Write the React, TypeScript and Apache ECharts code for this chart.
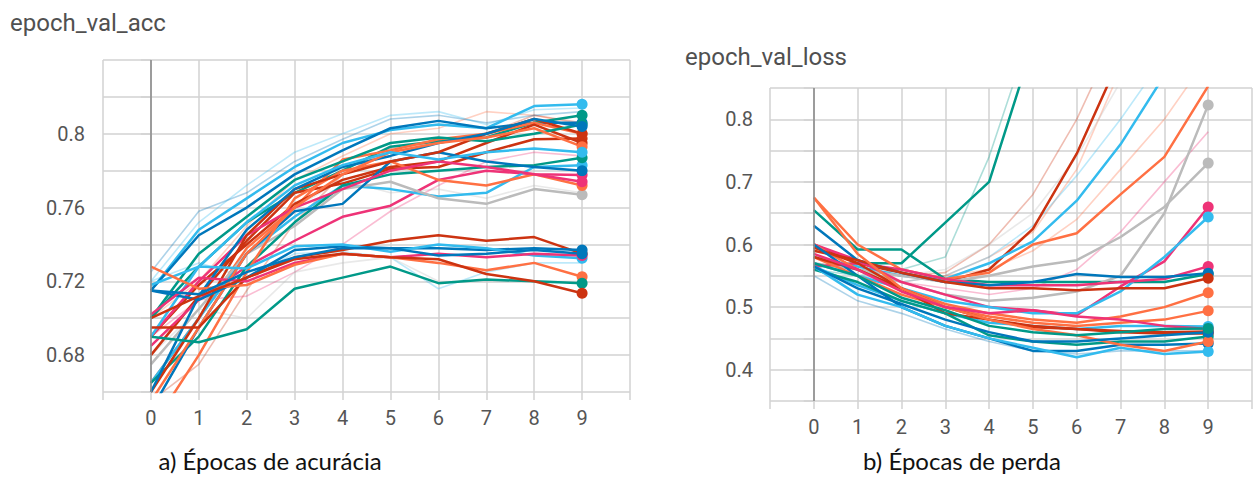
import React, { useEffect, useRef } from "react";
import * as echarts from "echarts";

// Epoch index shared by both panels
const EPOCHS = [0, 1, 2, 3, 4, 5, 6, 7, 8, 9];
const X_TICK_LABELS = ["0", "1", "2", "3", "4", "5", "6", "7", "8", "9"];

// TensorBoard run palette
const ORANGE = "#ff7043";
const BLUE = "#0077bb";
const RED = "#cc3311";
const CYAN = "#33bbee";
const PINK = "#ee3377";
const TEAL = "#009988";
const GRAY = "#bbbbbb";

// ---- epoch_val_acc ----
const ACC_TICK_LABELS = ["0.68", "0.72", "0.76", "0.8"];

// smoothed runs: [colour, values per epoch]
const accRuns: [string, number[]][] = [
  [CYAN, [0.715, 0.748, 0.765, 0.782, 0.795, 0.802, 0.805, 0.803, 0.815, 0.816]],
  [BLUE, [0.715, 0.745, 0.76, 0.778, 0.791, 0.803, 0.807, 0.803, 0.806, 0.806]],
  [TEAL, [0.7, 0.728, 0.752, 0.768, 0.78, 0.793, 0.796, 0.798, 0.806, 0.81]],
  [RED, [0.68, 0.712, 0.742, 0.768, 0.773, 0.781, 0.782, 0.79, 0.797, 0.7975]],
  [ORANGE, [0.665, 0.7, 0.738, 0.76, 0.786, 0.791, 0.797, 0.8, 0.806, 0.8]],
  [RED, [0.69, 0.718, 0.74, 0.762, 0.775, 0.782, 0.785, 0.795, 0.805, 0.795]],
  [PINK, [0.685, 0.71, 0.728, 0.742, 0.755, 0.761, 0.775, 0.78, 0.778, 0.7777]],
  [CYAN, [0.665, 0.7, 0.735, 0.755, 0.772, 0.77, 0.766, 0.768, 0.782, 0.783]],
  [GRAY, [0.675, 0.705, 0.735, 0.75, 0.77, 0.774, 0.765, 0.762, 0.77, 0.767]],
  [TEAL, [0.665, 0.69, 0.728, 0.752, 0.772, 0.778, 0.78, 0.782, 0.783, 0.787]],
  [BLUE, [0.65, 0.695, 0.735, 0.758, 0.762, 0.785, 0.79, 0.785, 0.782, 0.78]],
  [ORANGE, [0.64, 0.68, 0.725, 0.765, 0.78, 0.785, 0.775, 0.772, 0.778, 0.772]],
  [PINK, [0.69, 0.72, 0.745, 0.76, 0.77, 0.78, 0.785, 0.782, 0.778, 0.774]],
  [RED, [0.66, 0.7, 0.745, 0.77, 0.778, 0.785, 0.79, 0.8, 0.808, 0.8]],
  [TEAL, [0.7, 0.735, 0.755, 0.775, 0.785, 0.795, 0.798, 0.796, 0.8, 0.805]],
  [BLUE, [0.66, 0.712, 0.748, 0.77, 0.782, 0.788, 0.795, 0.8, 0.808, 0.804]],
  [ORANGE, [0.655, 0.695, 0.735, 0.76, 0.778, 0.79, 0.795, 0.798, 0.803, 0.793]],
  [CYAN, [0.69, 0.728, 0.752, 0.772, 0.783, 0.79, 0.786, 0.79, 0.792, 0.79]],
  [RED, [0.695, 0.695, 0.722, 0.733, 0.737, 0.742, 0.745, 0.742, 0.744, 0.735]],
  [BLUE, [0.715, 0.71, 0.722, 0.737, 0.739, 0.738, 0.738, 0.737, 0.738, 0.737]],
  [CYAN, [0.718, 0.728, 0.727, 0.739, 0.74, 0.736, 0.74, 0.738, 0.734, 0.7325]],
  [PINK, [0.702, 0.722, 0.72, 0.73, 0.735, 0.733, 0.735, 0.733, 0.735, 0.734]],
  [ORANGE, [0.728, 0.716, 0.718, 0.729, 0.735, 0.733, 0.73, 0.726, 0.73, 0.7225]],
  [TEAL, [0.69, 0.687, 0.694, 0.716, 0.722, 0.728, 0.719, 0.721, 0.72, 0.719]],
  [RED, [0.7, 0.712, 0.722, 0.732, 0.735, 0.733, 0.732, 0.724, 0.72, 0.7135]],
  [BLUE, [0.715, 0.713, 0.725, 0.733, 0.738, 0.738, 0.734, 0.735, 0.737, 0.735]],
];

// raw (unsmoothed) runs, drawn faint
const accRawRuns: [string, number[]][] = [
  [CYAN, [0.72, 0.752, 0.772, 0.79, 0.8, 0.81, 0.812, 0.805, 0.813, 0.814]],
  [ORANGE, [0.7, 0.72, 0.75, 0.775, 0.788, 0.8, 0.803, 0.812, 0.81, 0.805]],
  [GRAY, [0.7, 0.7, 0.735, 0.76, 0.775, 0.768, 0.77, 0.765, 0.772, 0.768]],
  [RED, [0.655, 0.675, 0.715, 0.752, 0.778, 0.792, 0.795, 0.8, 0.81, 0.806]],
  [CYAN, [0.72, 0.73, 0.722, 0.735, 0.736, 0.733, 0.716, 0.725, 0.73, 0.73]],
  [PINK, [0.69, 0.71, 0.712, 0.725, 0.74, 0.758, 0.772, 0.785, 0.79, 0.788]],
  [GRAY, [0.68, 0.705, 0.7, 0.725, 0.73, 0.733, 0.72, 0.72, 0.72, 0.72]],
  [BLUE, [0.725, 0.758, 0.768, 0.785, 0.797, 0.808, 0.81, 0.806, 0.81, 0.812]],
];

// ---- epoch_val_loss ----
const LOSS_TICK_LABELS = ["0.4", "0.5", "0.6", "0.7", "0.8"];

const lossRuns: [string, number[]][] = [
  [TEAL, [0.565, 0.57, 0.57, 0.635, 0.7, 0.92, 1.1, 1.3, 1.5, 1.7]],
  [TEAL, [0.655, 0.592, 0.592, 0.545, 0.54, 0.54, 0.54, 0.54, 0.54, 0.553]],
  [RED, [0.6, 0.57, 0.555, 0.54, 0.56, 0.625, 0.745, 0.9, 1.05, 1.2]],
  [CYAN, [0.58, 0.565, 0.55, 0.545, 0.57, 0.605, 0.67, 0.76, 0.87, 1.0]],
  [ORANGE, [0.675, 0.6, 0.56, 0.545, 0.555, 0.6, 0.618, 0.68, 0.74, 0.853]],
  [GRAY, [0.58, 0.56, 0.54, 0.52, 0.51, 0.515, 0.525, 0.55, 0.65, 0.823]],
  [GRAY, [0.57, 0.56, 0.55, 0.54, 0.55, 0.565, 0.575, 0.612, 0.66, 0.73]],
  [PINK, [0.6, 0.575, 0.54, 0.52, 0.5, 0.495, 0.487, 0.533, 0.573, 0.66]],
  [CYAN, [0.57, 0.55, 0.53, 0.51, 0.5, 0.49, 0.49, 0.525, 0.58, 0.644]],
  [PINK, [0.565, 0.57, 0.56, 0.545, 0.535, 0.535, 0.535, 0.54, 0.545, 0.565]],
  [BLUE, [0.63, 0.575, 0.555, 0.54, 0.535, 0.54, 0.553, 0.548, 0.548, 0.554]],
  [RED, [0.59, 0.575, 0.555, 0.54, 0.53, 0.53, 0.527, 0.53, 0.53, 0.546]],
  [ORANGE, [0.6, 0.56, 0.53, 0.505, 0.49, 0.48, 0.475, 0.485, 0.5, 0.523]],
  [ORANGE, [0.58, 0.55, 0.52, 0.5, 0.485, 0.475, 0.47, 0.475, 0.48, 0.494]],
  [CYAN, [0.565, 0.535, 0.51, 0.49, 0.475, 0.47, 0.465, 0.47, 0.47, 0.469]],
  [RED, [0.595, 0.57, 0.53, 0.49, 0.48, 0.47, 0.465, 0.462, 0.46, 0.461]],
  [RED, [0.58, 0.56, 0.53, 0.5, 0.48, 0.468, 0.465, 0.46, 0.458, 0.458]],
  [TEAL, [0.56, 0.54, 0.51, 0.49, 0.455, 0.445, 0.44, 0.445, 0.445, 0.453]],
  [BLUE, [0.6, 0.55, 0.5, 0.47, 0.45, 0.43, 0.43, 0.44, 0.44, 0.442]],
  [CYAN, [0.565, 0.52, 0.5, 0.47, 0.45, 0.435, 0.42, 0.435, 0.425, 0.429]],
  [ORANGE, [0.675, 0.585, 0.53, 0.5, 0.48, 0.465, 0.455, 0.44, 0.43, 0.445]],
  [PINK, [0.585, 0.56, 0.525, 0.5, 0.49, 0.495, 0.485, 0.48, 0.47, 0.465]],
  [BLUE, [0.565, 0.53, 0.505, 0.48, 0.46, 0.445, 0.445, 0.45, 0.455, 0.46]],
  [TEAL, [0.57, 0.55, 0.515, 0.495, 0.47, 0.46, 0.455, 0.46, 0.465, 0.466]],
];

const lossRawRuns: [string, number[]][] = [
  [TEAL, [0.56, 0.55, 0.56, 0.58, 0.74, 0.95, 1.1, 1.2, 1.3, 1.4]],
  [ORANGE, [0.58, 0.56, 0.54, 0.55, 0.58, 0.62, 0.72, 0.88, 1.0, 1.1]],
  [RED, [0.58, 0.56, 0.55, 0.555, 0.6, 0.68, 0.8, 0.95, 1.1, 1.2]],
  [GRAY, [0.57, 0.56, 0.55, 0.56, 0.6, 0.65, 0.74, 0.86, 1.0, 1.1]],
  [CYAN, [0.57, 0.55, 0.54, 0.55, 0.58, 0.63, 0.71, 0.8, 0.9, 1.0]],
  [ORANGE, [0.6, 0.56, 0.55, 0.55, 0.56, 0.59, 0.64, 0.72, 0.8, 0.9]],
  [PINK, [0.58, 0.56, 0.54, 0.53, 0.52, 0.53, 0.56, 0.62, 0.7, 0.78]],
  [BLUE, [0.55, 0.51, 0.49, 0.465, 0.445, 0.43, 0.425, 0.43, 0.43, 0.43]],
];

const GRID_COLOR = "#d2d2d2";
const ZERO_COLOR = "#8c8c8c";
const TICK_FONT = { fontFamily: "Roboto", fontSize: 20, color: "#555555" };
const TITLE_FONT = { fontFamily: "Roboto", fontSize: 24, fontWeight: "normal", color: "#505050" };
const CAPTION_FONT = { fontFamily: "Lato", fontSize: 24, fill: "#111111" };

function runSeries(
  runs: [string, number[]][],
  axisIndex: number,
  faded: boolean
) {
  return runs.map(([color, values]) => ({
    type: "line",
    xAxisIndex: axisIndex,
    yAxisIndex: axisIndex,
    silent: true,
    symbol: "none",
    z: faded ? 2 : 3,
    lineStyle: { color, width: faded ? 1.6 : 2.5, opacity: faded ? 0.32 : 1 },
    itemStyle: { color },
    data: values.map((v, i) =>
      !faded && i === values.length - 1
        ? { value: [EPOCHS[i], v], symbol: "circle", symbolSize: 11 }
        : [EPOCHS[i], v]
    ),
  }));
}

function zeroLine(axisIndex: number) {
  return {
    type: "line",
    xAxisIndex: axisIndex,
    yAxisIndex: axisIndex,
    data: [],
    z: 1,
    markLine: {
      silent: true,
      symbol: "none",
      animation: false,
      label: { show: false },
      lineStyle: { color: ZERO_COLOR, width: 1.6, type: "solid" },
      data: [{ xAxis: 0 }],
    },
  };
}

function xAxisFor(gridIndex: number) {
  return {
    type: "value",
    gridIndex,
    min: -1,
    max: 10,
    interval: 1,
    axisLine: { show: false },
    axisTick: { show: true, length: 8, lineStyle: { color: GRID_COLOR, width: 1.5 } },
    splitLine: { show: true, lineStyle: { color: GRID_COLOR, width: 1.5 } },
    axisLabel: {
      ...TICK_FONT,
      margin: 16,
      showMinLabel: true,
      showMaxLabel: true,
      formatter: (v: number) => {
        const s = String(Math.round(v));
        return X_TICK_LABELS.includes(s) ? s : "";
      },
    },
  };
}

function yAxisFor(
  gridIndex: number,
  min: number,
  max: number,
  interval: number,
  labels: string[],
  margin: number
) {
  return {
    type: "value",
    gridIndex,
    min,
    max,
    interval,
    axisLine: { show: false },
    axisTick: { show: true, length: 10, lineStyle: { color: GRID_COLOR, width: 1.5 } },
    splitLine: { show: true, lineStyle: { color: GRID_COLOR, width: 1.5 } },
    axisLabel: {
      ...TICK_FONT,
      margin,
      showMinLabel: true,
      showMaxLabel: true,
      formatter: (v: number) => {
        const s = String(+v.toFixed(2));
        return labels.includes(s) ? s : "";
      },
    },
  };
}

export default function App() {
  const ref = useRef<HTMLDivElement>(null);

  useEffect(() => {
    if (!ref.current) return;
    const chart = echarts.init(ref.current, undefined, { renderer: "svg" });
    chart.setOption({
      animation: false,
      backgroundColor: "#ffffff",
      title: [
        { text: "epoch_val_acc", left: 10, top: 11, padding: 0, textStyle: TITLE_FONT },
        { text: "epoch_val_loss", left: 685, top: 45, padding: 0, textStyle: TITLE_FONT },
      ],
      grid: [
        { left: 103, top: 60, width: 527, height: 332 },
        { left: 770, top: 88, width: 490, height: 313 },
      ],
      xAxis: [xAxisFor(0), xAxisFor(1)],
      yAxis: [
        yAxisFor(0, 0.66, 0.84, 0.02, ACC_TICK_LABELS, 18),
        yAxisFor(1, 0.35, 0.85, 0.05, LOSS_TICK_LABELS, 17),
      ],
      graphic: [
        {
          type: "text",
          x: 270,
          y: 460,
          style: {
            text: "a) Épocas de acurácia",
            ...CAPTION_FONT,
            align: "center",
            verticalAlign: "middle",
          },
        },
        {
          type: "text",
          x: 962,
          y: 460,
          style: {
            text: "b) Épocas de perda",
            ...CAPTION_FONT,
            align: "center",
            verticalAlign: "middle",
          },
        },
      ],
      series: [
        zeroLine(0),
        zeroLine(1),
        ...runSeries(accRawRuns, 0, true),
        ...runSeries(accRuns, 0, false),
        ...runSeries(lossRawRuns, 1, true),
        ...runSeries(lossRuns, 1, false),
      ],
    });
    return () => chart.dispose();
  }, []);

  return (
    <div
      ref={ref}
      style={{ position: "absolute", left: 0, top: 0, width: 1255, height: 485 }}
    />
  );
}
